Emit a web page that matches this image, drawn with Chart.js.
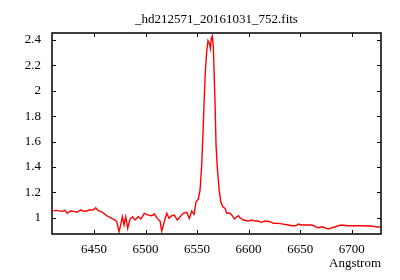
<!DOCTYPE html>
<html>
<head>
<meta charset="utf-8">
<script src="https://cdn.jsdelivr.net/npm/chart.js@4"></script>
<style>
  html, body { margin: 0; padding: 0; background: #fff; }
  #wrap { width: 400px; height: 280px; }
</style>
</head>
<body>
<div id="wrap"><canvas id="spec"></canvas></div>
<script>
var wavelength = [
  6410.6, 6413.9, 6418.8, 6422.0, 6424.1, 6427.4, 6430.6, 6433.3, 6437.1, 6441.3,
  6445.5, 6449.4, 6451.7, 6454.2, 6457.5, 6460.7, 6463.9, 6467.2, 6470.4, 6472.1,
  6474.3, 6476.2, 6477.5, 6479.2, 6480.8, 6482.7, 6485.0, 6487.2, 6489.8, 6493.0,
  6495.6, 6498.8, 6502.7, 6506.0, 6508.7, 6511.4, 6514.1, 6515.7, 6518.2, 6520.6,
  6522.8, 6525.4, 6527.9, 6530.9, 6533.5, 6536.7, 6540.0, 6542.5, 6544.8, 6547.1,
  6549.0, 6551.2, 6552.9, 6554.5, 6555.5, 6556.8, 6558.0, 6559.4, 6560.6, 6561.9,
  6562.9, 6563.8, 6564.8, 6565.8, 6566.5, 6567.4, 6568.4, 6569.7, 6571.6, 6573.0,
  6574.9, 6577.1, 6578.8, 6582.0, 6584.2, 6586.1, 6588.5, 6590.0, 6591.7, 6594.9,
  6599.7, 6603.0, 6606.2, 6609.4, 6612.0, 6615.9, 6620.8, 6624.0, 6628.8, 6633.7,
  6638.5, 6641.8, 6645.7, 6648.2, 6650.9, 6653.1, 6661.3, 6667.6, 6670.9, 6674.1,
  6677.3, 6680.6, 6683.8, 6687.0, 6690.3, 6695.2, 6700.0, 6704.9, 6709.7, 6714.6,
  6717.8, 6721.0, 6724.3, 6727.5
];
var flux = [
  1.055, 1.058, 1.050, 1.058, 1.035, 1.053, 1.050, 1.043, 1.061, 1.050,
  1.061, 1.063, 1.079, 1.055, 1.047, 1.027, 1.008, 0.995, 0.982, 0.969,
  0.890, 0.956, 1.008, 0.943, 1.008, 0.917, 0.990, 1.008, 0.982, 1.008,
  0.990, 1.035, 1.021, 1.016, 1.029, 0.995, 0.974, 0.895, 0.969, 1.035,
  0.995, 1.016, 1.021, 0.982, 1.008, 1.035, 1.043, 0.995, 1.053, 1.027,
  1.126, 1.147, 1.218, 1.415, 1.612, 1.901, 2.150, 2.315, 2.394, 2.373,
  2.334, 2.413, 2.431, 2.346, 2.150, 1.913, 1.572, 1.389, 1.205, 1.126,
  1.087, 1.074, 1.035, 1.035, 1.016, 0.990, 1.008, 1.016, 1.000, 0.982,
  0.974, 0.982, 0.974, 0.974, 0.964, 0.974, 0.969, 0.956, 0.956, 0.950,
  0.943, 0.937, 0.937, 0.950, 0.943, 0.943, 0.943, 0.921, 0.929, 0.921,
  0.911, 0.921, 0.927, 0.937, 0.943, 0.937, 0.937, 0.937, 0.937, 0.935,
  0.935, 0.932, 0.927, 0.927
];
var xTicks = [6450, 6500, 6550, 6600, 6650, 6700];
var yTicks = [1, 1.2, 1.4, 1.6, 1.8, 2, 2.2, 2.4];

var points = wavelength.map(function (w, i) { return { x: w, y: flux[i] }; });
var FONT = "'Liberation Serif', 'DejaVu Serif', serif";

// gnuplot style box with inward ticks on all four sides
var frame = {
  id: "frame",
  afterDraw: function (chart) {
    var ctx = chart.ctx, a = chart.chartArea;
    var xs = chart.scales.x, ys = chart.scales.y;
    var t = 4;
    ctx.save();
    ctx.strokeStyle = "#000";
    ctx.lineWidth = 1;
    ctx.beginPath();
    xTicks.forEach(function (v) {
      var px = Math.round(xs.getPixelForValue(v)) + 0.5;
      ctx.moveTo(px, a.bottom); ctx.lineTo(px, a.bottom - t);
      ctx.moveTo(px, a.top); ctx.lineTo(px, a.top + t);
    });
    yTicks.forEach(function (v) {
      var py = Math.round(ys.getPixelForValue(v)) + 0.5;
      ctx.moveTo(a.left, py); ctx.lineTo(a.left + t, py);
      ctx.moveTo(a.right, py); ctx.lineTo(a.right - t, py);
    });
    ctx.stroke();
    ctx.lineWidth = 1.5;
    ctx.strokeRect(a.left, a.top, a.right - a.left, a.bottom - a.top);
    ctx.restore();
  }
};

new Chart(document.getElementById("spec"), {
  type: "scatter",
  data: {
    datasets: [{
      data: points,
      showLine: true,
      borderColor: "#ff0000",
      borderWidth: 1.4,
      pointRadius: 0,
      tension: 0
    }]
  },
  options: {
    responsive: true,
    maintainAspectRatio: false,
    animation: false,
    layout: { padding: { left: 0, right: 19, top: 0, bottom: 0 } },
    plugins: {
      legend: { display: false },
      tooltip: { enabled: false },
      title: {
        display: true,
        fullSize: false,
        text: "_hd212571_20161031_752.fits",
        color: "#000",
        font: { family: FONT, size: 13, weight: "normal" },
        padding: { top: 12, bottom: 5.4 }
      }
    },
    scales: {
      x: {
        type: "linear",
        min: 6409.3,
        max: 6728.4,
        grid: { display: false, drawTicks: false },
        border: { display: false },
        afterBuildTicks: function (s) { s.ticks = xTicks.map(function (v) { return { value: v }; }); },
        afterFit: function (s) { s.height = 46; },
        ticks: {
          color: "#000",
          padding: 8,
          maxRotation: 0,
          autoSkip: false,
          font: { family: FONT, size: 13 },
          callback: function (v) { return String(v); }
        },
        title: {
          display: true,
          text: "Angstrom",
          align: "end",
          color: "#000",
          font: { family: FONT, size: 13 },
          padding: { top: 0, bottom: 9 }
        }
      },
      y: {
        type: "linear",
        min: 0.872,
        max: 2.455,
        grid: { display: false, drawTicks: false },
        border: { display: false },
        afterBuildTicks: function (s) { s.ticks = yTicks.map(function (v) { return { value: v }; }); },
        afterFit: function (s) { s.width = 52; },
        ticks: {
          color: "#000",
          padding: 11,
          autoSkip: false,
          font: { family: FONT, size: 13 },
          callback: function (v) { return String(Math.round(v * 10) / 10); }
        }
      }
    }
  },
  plugins: [frame]
});
</script>
</body>
</html>
